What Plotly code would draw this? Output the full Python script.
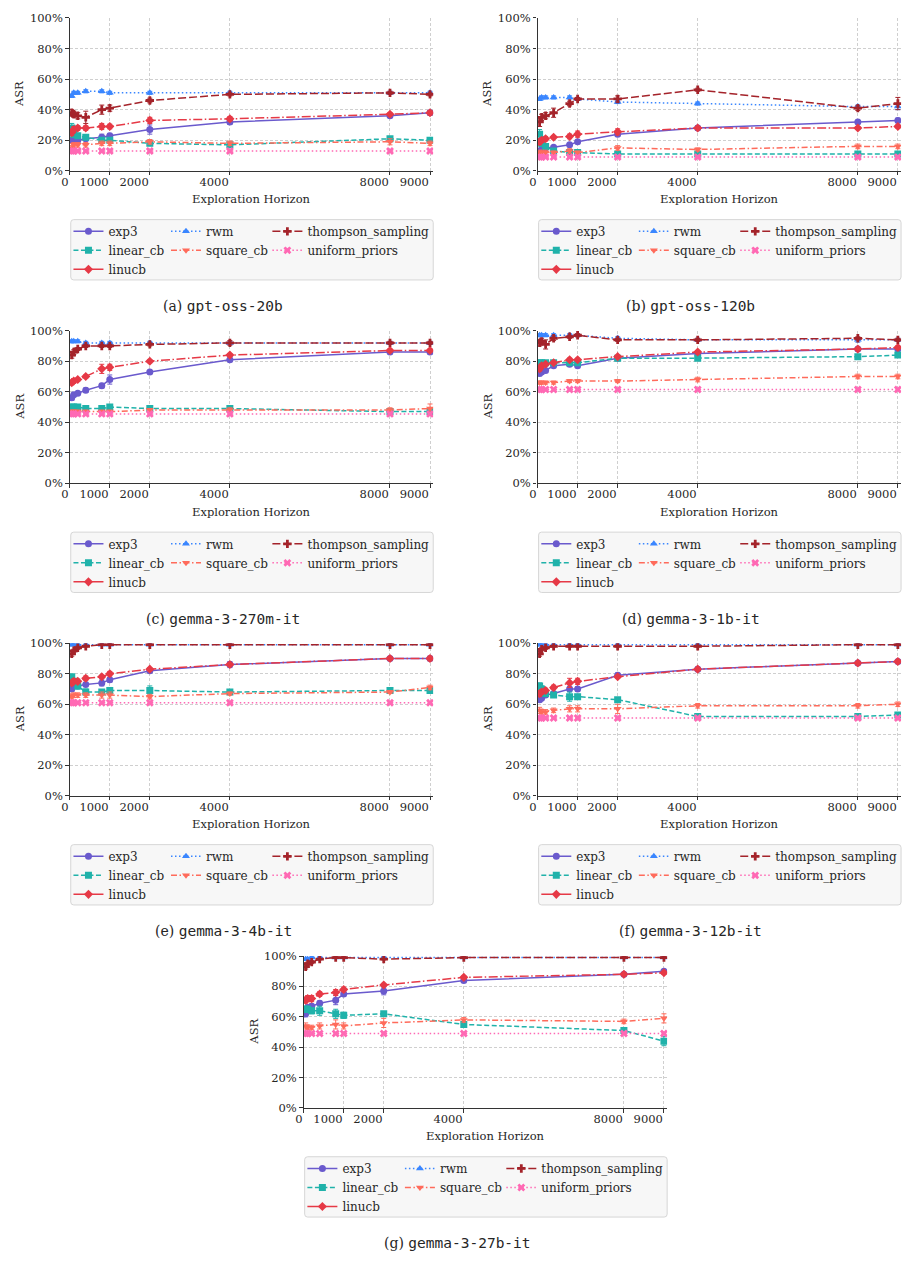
import plotly.graph_objects as go

# ---------------- data (ASR in %) ----------------
X_HORIZON = [50, 100, 200, 400, 800, 1000, 2000, 4000, 8000, 9000]
X_TICKS = [0, 1000, 2000, 4000, 8000, 9000]
Y_TICKS = [0, 20, 40, 60, 80, 100]
PANEL_LETTERS = ["a", "b", "c", "d", "e", "f", "g"]
MODELS = ["gpt-oss-20b", "gpt-oss-120b", "gemma-3-270m-it", "gemma-3-1b-it",
          "gemma-3-4b-it", "gemma-3-12b-it", "gemma-3-27b-it"]
SERIES = ["exp3", "linear_cb", "linucb", "rwm", "square_cb",
          "thompson_sampling", "uniform_priors"]

# one row per panel (a..g)
EXP3 = [
    [20, 20, 20, 21, 22, 23, 27, 32, 36, 38],
    [13, 14, 15, 15.5, 17, 19, 24, 28, 32, 33],
    [56, 58, 59, 61, 64, 68, 73, 81, 86, 86],
    [72, 73, 74, 77, 78, 77, 82, 85, 88, 88],
    [70, 72, 72, 73, 74, 76, 82, 86, 90, 90],
    [63, 64, 66, 67, 70, 70, 79, 83, 87, 88],
    [62, 66, 67, 69, 71, 75, 77, 84, 88, 90],
]
LINEAR_CB = [
    [28, 24, 23, 22, 20, 20, 18, 17, 21, 20],
    [24, 18, 16, 13, 12, 12, 11, 11, 11, 11],
    [50, 50, 50, 49, 49, 50, 49, 49, 47, 47],
    [79, 79, 79, 79, 79, 79, 82, 82, 83, 84],
    [78, 75, 72, 68, 68, 69, 69, 68, 69, 69],
    [72, 70, 67, 66, 65, 65, 63, 52, 52, 53],
    [65, 65, 64, 64, 62, 61, 62, 55, 51, 44],
]
LINUCB = [
    [25, 27, 28, 28, 29, 29, 33, 34, 37, 38],
    [19, 20, 21, 22, 22.5, 24, 25.5, 28, 28, 29],
    [66, 67, 68, 70, 75, 76, 80, 84, 87, 87],
    [75, 77, 78, 79, 81, 81, 83, 86, 88, 89],
    [74, 75, 75, 77, 78, 80, 83, 86, 90, 90],
    [67, 68, 69, 71, 74, 75, 78, 83, 87, 88],
    [71, 72, 72, 75, 76, 78, 81, 86, 88, 89],
]
RWM = [
    [49, 51, 51, 52, 52, 51, 51, 51, 51, 51],
    [47, 48, 48, 48, 48, 47, 45, 44, 42, 42],
    [93, 93, 93, 92, 92, 92, 92, 92, 92, 92],
    [97, 97, 97, 97, 97, 97, 95, 94, 94, 94],
    [99, 99, 99, 99, 99, 99, 99, 99, 99, 99],
    [99, 99, 99, 99, 99, 99, 99, 99, 99, 99],
    [98, 98, 99, 99, 99, 99, 99, 99, 99, 99],
]
SQUARE_CB = [
    [15, 17, 17, 17, 18, 18, 19, 18, 19, 18],
    [12, 12, 12, 12, 13, 12, 15, 14, 16, 16],
    [47, 47, 47, 47, 47, 47, 48, 48, 48, 49],
    [66, 66, 66, 66, 67, 67, 67, 68, 70, 70],
    [65, 66, 66, 66, 66, 66, 65, 67, 68, 71],
    [56, 55, 55, 56, 57, 57, 57, 59, 59, 60],
    [54, 53, 53, 54, 55, 54, 56, 58, 57, 59],
]
THOMPSON = [
    [38, 37, 36, 35, 40, 41, 46, 50, 51, 50],
    [32, 35, 36, 38, 44, 47, 47, 53, 41, 44],
    [84, 86, 88, 90, 90, 90, 91, 92, 92, 92],
    [92, 93, 91, 95, 96, 97, 94, 94, 95, 94],
    [93, 95, 97, 98, 99, 99, 99, 99, 99, 99],
    [93, 96, 97, 98, 98, 98, 98, 98, 99, 99],
    [93, 95, 96, 98, 99, 99, 98, 99, 99, 99],
]
UNIFORM = [
    [13, 13, 13, 13, 13, 13, 13, 13, 13, 13],
    [9, 9, 9, 9, 9, 9, 9, 9, 9, 9],
    [45.5, 45.5, 45.5, 45.5, 45.5, 45.5, 45.5, 45.5, 45.5, 45.5],
    [61.5, 61.5, 61.5, 61.5, 61.5, 61.5, 61.5, 61.5, 61.5, 61.5],
    [61, 61, 61, 61, 61, 61, 61, 61, 61, 61],
    [51, 51, 51, 51, 51, 51, 51, 51, 51, 51],
    [49, 49, 49, 49, 49, 49, 49, 49, 49, 49],
]

# error bar half-widths (%)
ERR_EXP3 = [
    [1, 1, 1, 1, 2, 1.5, 3, 1.5, 1, 1.5],
    [1, 1, 1, 1, 1, 1, 1.5, 1.5, 1, 1.5],
    [1.5, 1, 1, 1.5, 1.5, 3, 1, 1, 1, 1],
    [1.5, 1.5, 1, 1, 1, 1, 1, 1, 1, 1],
    [1.5, 1, 1, 1, 2, 1.5, 1, 2, 1, 1],
    [1.5, 1, 1, 1, 1.5, 1.5, 1.5, 1.5, 1, 1],
    [2, 2, 1.5, 1.5, 3, 1.5, 2.5, 1, 1, 1],
]
ERR_LINEAR_CB = [
    [3, 2, 1.5, 1.5, 1.5, 1.5, 1.5, 1.5, 1.5, 1.5],
    [3, 2, 1.5, 1, 1, 1, 1, 1, 1, 1],
    [1.5, 1, 1, 1, 1, 1, 1, 2, 1, 1.5],
    [1, 1, 1, 1, 1, 1, 1, 1, 1, 1],
    [1.5, 1.5, 2, 2, 1.5, 2, 3, 1.5, 1, 1],
    [2, 2, 2, 1.5, 3, 1.5, 1, 1, 1, 1],
    [2, 2, 2, 3, 3, 2, 1.5, 1.5, 2, 3],
]
ERR_LINUCB = [
    [2, 2, 1.5, 1.5, 2, 1.5, 2, 1.5, 1, 1.5],
    [2, 1.5, 1.5, 1, 1.5, 2, 2, 1, 1, 1],
    [1.5, 1.5, 1, 1, 3, 2, 1, 1, 1, 1],
    [1.5, 1.5, 1, 1, 1, 1, 1, 1, 1, 1],
    [1.5, 1.5, 1.5, 1.5, 1, 1.5, 1, 1, 1, 1.5],
    [2, 1.5, 1.5, 1.5, 3, 2, 1, 1, 1, 1],
    [2, 2, 2, 1.5, 2, 1.5, 1, 1, 1, 1],
]
ERR_RWM = [
    [1, 1, 1, 1, 1, 1, 1, 1, 1, 1],
    [1, 1, 1, 1, 1, 1, 1, 1, 1, 2],
    [1, 1, 1, 1, 1, 1, 1, 1, 1, 1],
    [1, 1, 1, 1, 1, 1, 1, 1, 1.5, 1],
    [0.5, 0.5, 0.5, 0.5, 0.5, 0.5, 0.5, 0.5, 0.5, 0.5],
    [0.5, 0.5, 0.5, 0.5, 0.5, 0.5, 0.5, 0.5, 0.5, 0.5],
    [0.5, 0.5, 0.5, 0.5, 0.5, 0.5, 0.5, 0.5, 0.5, 0.5],
]
ERR_SQUARE_CB = [
    [1.5, 1.5, 1.5, 1.5, 1.5, 1.5, 1.5, 1.5, 2, 1.5],
    [1.5, 1.5, 1.5, 1, 1.5, 1, 1.5, 1, 1.5, 1.5],
    [1, 1, 1, 1, 1, 1, 1, 1.5, 1.5, 3],
    [1, 1, 1, 1, 1, 1, 1, 1.5, 1.5, 1.5],
    [1.5, 1.5, 1.5, 1.5, 2, 2, 1.5, 1, 1, 1.5],
    [2, 1.5, 1.5, 1.5, 2, 2, 3, 1.5, 1.5, 1.5],
    [2, 1.5, 1.5, 2, 3, 2, 3, 1.5, 1.5, 3],
]
ERR_THOMPSON = [
    [2, 2, 2, 4, 3, 2, 1.5, 1, 1, 1],
    [3, 2, 2, 3, 1.5, 1, 2, 1, 1.5, 4],
    [2, 1.5, 1, 1, 1, 1, 1, 1.5, 1, 1],
    [2, 2, 3, 1.5, 1, 1, 1, 1, 1, 1],
    [1.5, 1, 1, 0.5, 0.5, 0.5, 0.5, 0.5, 0.5, 0.5],
    [1.5, 1, 1, 0.5, 0.5, 0.5, 0.5, 0.5, 0.5, 0.5],
    [1.5, 1, 1, 0.5, 0.5, 0.5, 0.5, 0.5, 0.5, 0.5],
]
ERR_UNIFORM = [
    [0.5, 0.5, 0.5, 0.5, 0.5, 0.5, 0.5, 0.5, 0.5, 0.5],
    [0.5, 0.5, 0.5, 0.5, 0.5, 0.5, 0.5, 0.5, 0.5, 0.5],
    [0.5, 0.5, 0.5, 0.5, 0.5, 0.5, 0.5, 0.5, 0.5, 0.5],
    [0.5, 0.5, 0.5, 0.5, 0.5, 0.5, 0.5, 0.5, 0.5, 0.5],
    [0.5, 0.5, 0.5, 0.5, 0.5, 0.5, 0.5, 0.5, 0.5, 0.5],
    [0.5, 0.5, 0.5, 0.5, 0.5, 0.5, 0.5, 0.5, 0.5, 0.5],
    [0.5, 0.5, 0.5, 0.5, 0.5, 0.5, 0.5, 0.5, 0.5, 0.5],
]

VALUES = {"exp3": EXP3, "linear_cb": LINEAR_CB, "linucb": LINUCB, "rwm": RWM,
          "square_cb": SQUARE_CB, "thompson_sampling": THOMPSON,
          "uniform_priors": UNIFORM}
ERRORS = {"exp3": ERR_EXP3, "linear_cb": ERR_LINEAR_CB, "linucb": ERR_LINUCB,
          "rwm": ERR_RWM, "square_cb": ERR_SQUARE_CB,
          "thompson_sampling": ERR_THOMPSON, "uniform_priors": ERR_UNIFORM}

# ---------------- styles ----------------
STYLE = {
    "exp3":              dict(color="#6a5acd", dash="solid", symbol="circle", ldash="solid"),
    "linear_cb":         dict(color="#20b2aa", dash="5px,2.5px", symbol="square", ldash="5px,2.5px"),
    "linucb":            dict(color="#e63946", dash="9px,2.5px,1.5px,2.5px", symbol="diamond", ldash="solid"),
    "rwm":               dict(color="#3a86ff", dash="1.5px,2.5px", symbol="triangle-up", ldash="1.5px,2.5px"),
    "square_cb":         dict(color="#ff6b5b", dash="6px,2.5px,1.5px,2.5px", symbol="triangle-down", ldash="6px,2.5px,1.5px,2.5px"),
    "thompson_sampling": dict(color="#a4232a", dash="8px,3px", symbol="cross", ldash="8px,3px"),
    "uniform_priors":    dict(color="#ff69b4", dash="1.5px,2.5px", symbol="x", ldash="1.5px,2.5px"),
}
LEGEND_COLUMNS = [["exp3", "linear_cb", "linucb"], ["rwm", "square_cb"],
                  ["thompson_sampling", "uniform_priors"]]

# ---------------- layout geometry (pixels) ----------------
W, H = 908, 1266
PANEL_BOXES = [  # left, right, top, bottom
    (62.3, 429.0, 11.0, 165.7),
    (534.3, 901.0, 11.0, 165.7),
    (62.3, 429.0, 327.3, 481.7),
    (534.3, 901.0, 327.3, 481.7),
    (62.3, 429.0, 643.3, 797.7),
    (534.3, 901.0, 643.3, 797.7),
    (298.3, 665.0, 959.7, 1113.3),
]
LEG_COL_OFFSETS = [5.0, 103.4, 205.7]
LEG_SHIFT_X = -2.3
LEG_SHIFT_Y = -2.8
SERIF = "DejaVu Serif"
MONO = "DejaVu Sans Mono"
TXT = "#262626"


def fx(p):
    return p / W


def fy(p):
    return 1 - p / H


fig = go.Figure()
annotations = []
shapes = []
layout_extra = {}

for i in range(7):
    L, R, T, B = PANEL_BOXES[i]
    n = i + 1
    xa = "x" if n == 1 else f"x{n}"
    ya = "y" if n == 1 else f"y{n}"
    xkey = "xaxis" if n == 1 else f"xaxis{n}"
    ykey = "yaxis" if n == 1 else f"yaxis{n}"

    axis_common = dict(
        showline=True, linecolor="#333333", linewidth=1.2,
        ticks="outside", ticklen=3.5, tickwidth=1, tickcolor="#333333",
        showgrid=True, gridcolor="#cfcfcf", gridwidth=0.8, griddash="3px,2px",
        zeroline=False, tickfont=dict(family=SERIF, size=11.5, color=TXT),
        fixedrange=True,
    )
    layout_extra[xkey] = dict(
        axis_common, domain=[fx(L), fx(R)], anchor=ya, range=[0, 9080],
        tickmode="array", tickvals=X_TICKS, ticktext=[str(v) for v in X_TICKS],
        ticklabelposition="outside left",
    )
    layout_extra[ykey] = dict(
        axis_common, domain=[fy(B), fy(T)], anchor=xa, range=[0, 100],
        tickmode="array", tickvals=Y_TICKS, ticktext=[f"{v}%" for v in Y_TICKS],
    )

    # data traces
    for s in SERIES:
        st = STYLE[s]
        fig.add_trace(go.Scatter(
            x=X_HORIZON, y=VALUES[s][i], xaxis=xa, yaxis=ya,
            mode="lines+markers", name=s, showlegend=False,
            line=dict(color=st["color"], width=1.5, dash=st["dash"]),
            marker=dict(symbol=st["symbol"], size=7, color=st["color"]),
            error_y=dict(type="data", array=ERRORS[s][i], color=st["color"],
                         thickness=1, width=2.5),
        ))

    # legend box
    bx0, bx1 = fx(L + 1), fx(R)
    by0, by1 = fy(B + 49.3), fy(B + 110.3)
    rx, ry = 3 / W, 3 / H
    path = (f"M{bx0+rx},{by0} L{bx1-rx},{by0} Q{bx1},{by0} {bx1},{by0-ry} "
            f"L{bx1},{by1+ry} Q{bx1},{by1} {bx1-rx},{by1} L{bx0+rx},{by1} "
            f"Q{bx0},{by1} {bx0},{by1+ry} L{bx0},{by0-ry} Q{bx0},{by0} {bx0+rx},{by0} Z")
    shapes.append(dict(type="path", path=path, xref="paper", yref="paper",
                       fillcolor="#f7f7f7", line=dict(color="#d6d6d6", width=1),
                       layer="above"))

    # legends: three columns
    for c, col in enumerate(LEGEND_COLUMNS):
        idx = i * 3 + c + 1
        lkey = "legend" if idx == 1 else f"legend{idx}"
        layout_extra[lkey] = dict(
            x=fx(L + 1 + LEG_COL_OFFSETS[c] - 5 + LEG_SHIFT_X), xanchor="left",
            y=fy(B + 49.3 + LEG_SHIFT_Y), yanchor="top", orientation="v",
            bgcolor="rgba(0,0,0,0)", borderwidth=0, tracegroupgap=0,
            font=dict(family=SERIF, size=12, color=TXT), itemwidth=30,
        )
        for s in col:
            st = STYLE[s]
            fig.add_trace(go.Scatter(
                x=[None], y=[None], xaxis=xa, yaxis=ya, mode="lines+markers",
                name=s, legend=lkey, showlegend=True, hoverinfo="skip",
                line=dict(color=st["color"], width=1.5, dash=st["ldash"]),
                marker=dict(symbol=st["symbol"], size=7, color=st["color"]),
            ))

    # axis titles
    annotations.append(dict(
        text="Exploration Horizon", x=fx((L + R) / 2), y=fy(B + 28.8),
        xref="paper", yref="paper", showarrow=False, xanchor="center",
        yanchor="middle", font=dict(family=SERIF, size=11.5, color=TXT)))
    annotations.append(dict(
        text="ASR", x=fx(L - 50.5), y=fy((T + B) / 2), textangle=-90,
        xref="paper", yref="paper", showarrow=False, xanchor="center",
        yanchor="middle", font=dict(family=SERIF, size=11.5, color=TXT)))
    # caption
    annotations.append(dict(
        text=f"({PANEL_LETTERS[i]}) <span style=\"font-family:{MONO};font-size:14.5px\">{MODELS[i]}</span>",
        x=fx(L + 154.7), y=fy(B + 137), xref="paper", yref="paper",
        showarrow=False, xanchor="center", yanchor="middle",
        font=dict(family=SERIF, size=14, color=TXT)))

fig.update_layout(
    width=W, height=H, autosize=False,
    margin=dict(l=0, r=0, t=0, b=0),
    paper_bgcolor="white", plot_bgcolor="white",
    font=dict(family=SERIF, color=TXT),
    showlegend=True, annotations=annotations, shapes=shapes,
    **layout_extra,
)

fig.write_html("out.html")
